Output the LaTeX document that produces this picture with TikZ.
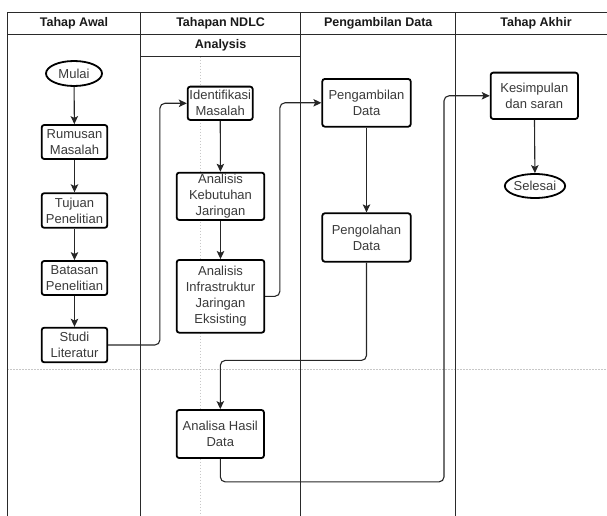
\documentclass[tikz,border=0pt]{standalone}
\usepackage{fontspec}
\setmainfont{Liberation Sans}
\usetikzlibrary{shapes.geometric,arrows.meta}
\definecolor{txt}{HTML}{3A3A3A}
\definecolor{lane}{HTML}{2A2A2A}
\definecolor{guide}{HTML}{C8C8C8}
\tikzset{
  box/.style={draw=black, line width=1.8pt, rounded corners=2.5pt, fill=white, inner sep=0pt,
    align=center, font=\fontsize{13}{16}\selectfont, text=txt},
  term/.style={ellipse, draw=black, line width=1.8pt, fill=white, inner sep=0pt,
    font=\fontsize{13}{16}\selectfont, text=txt},
  lanebar/.style={draw=lane, line width=1pt},
  guideline/.style={draw=guide, line width=0.6pt, dash pattern=on 1.5pt off 1.5pt},
  head/.style={font=\bfseries\fontsize{12.5}{15}\selectfont, text=black!90, inner sep=0pt},
  conn/.style={draw=black!85, line width=1.1pt, rounded corners=5pt, -{Stealth[length=8pt,width=7.5pt,inset=1.8pt]}}
}
\begin{document}
\begin{tikzpicture}[x=1pt,y=-1pt]
\useasboundingbox (0,0) rectangle (607,516);
% guide lines
\draw[guideline] (7.3,369) -- (607,369);
\draw[guideline] (200.7,56.7) -- (200.7,516);
% lanes
\draw[lanebar] (7.3,516) -- (7.3,12.7) -- (607,12.7);
\draw[lanebar] (7.3,34.3) -- (607,34.3);
\draw[lanebar] (140.5,12.7) -- (140.5,516);
\draw[lanebar] (300.7,12.7) -- (300.7,516);
\draw[lanebar] (455.8,12.7) -- (455.8,516);
\draw[lanebar] (140.5,56.7) -- (300.7,56.7);
% headers
\node[head] (h1) at (74,23.5) {Tahap Awal};
\node[head] (h2) at (220.6,23.5) {Tahapan NDLC};
\node[head] (h3) at (378.2,23.5) {Pengambilan Data};
\node[head] (h4) at (536,23.5) {Tahap Akhir};
\node[head] (h5) at (220.6,45.5) {Analysis};
% nodes
\node[term, minimum width=56pt, minimum height=25pt] (mulai) at (74,73.5) {Mulai};
\node[box, minimum width=65.6pt, minimum height=34pt] (rum) at (74.5,142) {Rumusan\\Masalah};
\node[box, minimum width=65.6pt, minimum height=34.6pt] (tuj) at (74.5,210.5) {Tujuan\\Penelitian};
\node[box, minimum width=65.6pt, minimum height=34pt] (bat) at (74.5,278) {Batasan\\Penelitian};
\node[box, minimum width=65.6pt, minimum height=34.6pt] (stu) at (74.5,345) {Studi\\Literatur};
\node[box, minimum width=65pt, minimum height=33.3pt] (idm) at (220.2,103.3) {Identifikasi\\Masalah};
\node[box, minimum width=87.6pt, minimum height=47.3pt] (keb) at (220.5,196.3) {Analisis\\Kebutuhan\\Jaringan};
\node[box, minimum width=87.6pt, minimum height=72.7pt] (inf) at (220.5,296.3) {Analisis\\Infrastruktur\\Jaringan\\Eksisting};
\node[box, minimum width=88.4pt, minimum height=47.7pt] (pga) at (366.5,102.8) {Pengambilan\\Data};
\node[box, minimum width=88.4pt, minimum height=48.4pt] (pgo) at (366.5,237.5) {Pengolahan\\Data};
\node[box, minimum width=87.3pt, minimum height=48pt] (ahd) at (220.3,434) {Analisa Hasil\\Data};
\node[box, minimum width=87.3pt, minimum height=46.3pt] (kes) at (534.3,95.8) {Kesimpulan\\dan saran};
\node[term, minimum width=56.6pt, minimum height=24pt] (sel) at (535,186) {Selesai};
% connectors
\draw[conn] (mulai) -- (rum);
\draw[conn] (rum) -- (tuj);
\draw[conn] (tuj) -- (bat);
\draw[conn] (bat) -- (stu);
\draw[conn] (stu.east) -- ++(51.7,0) |- (idm.west);
\draw[conn] (idm) -- (keb);
\draw[conn] (keb) -- (inf);
\draw[conn] (inf.east) -- ++(14.7,0) |- (pga.west);
\draw[conn] (pga) -- (pgo);
\draw[conn] (pgo.south) -- ++(0,97.8) -| (ahd.north);
\draw[conn] (ahd.south) -- ++(0,23) -- ++(223.7,0) |- (kes.west);
\draw[conn] (kes) -- (sel);
\end{tikzpicture}
\end{document}
